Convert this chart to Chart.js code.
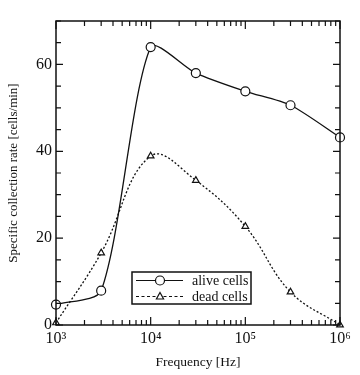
<!DOCTYPE html>
<html>
<head>
<meta charset="utf-8">
<script src="https://cdn.jsdelivr.net/npm/chart.js@4/dist/chart.umd.min.js"></script>
<style>
  html, body { margin: 0; padding: 0; background: #fff; }
  #wrap { width: 360px; height: 375px; }
</style>
</head>
<body>
<div id="wrap"><canvas id="chart" width="360" height="375"></canvas></div>
<script>
// values
const freqs      = [1e3, 3e3, 1e4, 3e4, 1e5, 3e5, 1e6];
const aliveCells = [4.7, 7.9, 64, 58, 53.8, 50.6, 43.2];
const deadCells  = [0.5, 16.6, 38.9, 33.3, 22.7, 7.6, 0];
const seriesNames = ['alive cells', 'dead cells'];
const xDecades = [1e3, 1e4, 1e5, 1e6];
const yLabels  = [0, 20, 40, 60];

const SERIF = '"Liberation Serif", "DejaVu Serif", serif';
const sup = { '3': '\u00b3', '4': '\u2074', '5': '\u2075', '6': '\u2076' };

// frame, inward ticks and the legend box
const framePlugin = {
  id: 'frame',
  afterDraw(chart) {
    const { ctx, chartArea: a, scales: { x, y } } = chart;
    ctx.save();
    ctx.strokeStyle = '#111';
    ctx.lineWidth = 1.5;
    ctx.strokeRect(a.left, a.top, a.right - a.left, a.bottom - a.top);

    ctx.lineWidth = 1.2;
    ctx.beginPath();
    // log ticks top + bottom
    for (let d = 1e3; d < 1e6; d *= 10) {
      for (let m = 1; m <= 10; m++) {
        const px = x.getPixelForValue(d * m);
        const len = (m === 1 || m === 10) ? 8 : 5;
        ctx.moveTo(px, a.bottom); ctx.lineTo(px, a.bottom - len);
        ctx.moveTo(px, a.top); ctx.lineTo(px, a.top + len);
      }
    }
    // y ticks left + right, every 5
    for (let v = 0; v <= 70; v += 5) {
      const py = y.getPixelForValue(v);
      const len = (v % 20 === 0) ? 7 : 5;
      ctx.moveTo(a.left, py); ctx.lineTo(a.left + len, py);
      ctx.moveTo(a.right, py); ctx.lineTo(a.right - len, py);
    }
    ctx.stroke();

    // legend
    const bx = a.left + 76, by = a.bottom - 53, bw = 119, bh = 32;
    ctx.fillStyle = '#fff';
    ctx.fillRect(bx, by, bw, bh);
    ctx.lineWidth = 1.5;
    ctx.strokeRect(bx, by, bw, bh);
    const rows = [
      { y: by + 8.5, dash: [], ds: chart.data.datasets[0] },
      { y: by + 24.5, dash: [3, 2.5], ds: chart.data.datasets[1] }
    ];
    rows.forEach((r, i) => {
      ctx.strokeStyle = '#111';
      ctx.lineWidth = 1.2;
      ctx.setLineDash(r.dash);
      ctx.beginPath();
      ctx.moveTo(bx + 4, r.y); ctx.lineTo(bx + 51, r.y);
      ctx.stroke();
      ctx.setLineDash([]);
      const cx = bx + 28;
      ctx.fillStyle = '#fff';
      ctx.beginPath();
      if (i === 0) {
        ctx.arc(cx, r.y, 4.5, 0, Math.PI * 2);
      } else {
        ctx.moveTo(cx, r.y - 4); ctx.lineTo(cx + 3.6, r.y + 2.5); ctx.lineTo(cx - 3.6, r.y + 2.5); ctx.closePath();
      }
      ctx.fill(); ctx.stroke();
      ctx.fillStyle = '#111';
      ctx.font = '14px ' + SERIF;
      ctx.textBaseline = 'middle';
      ctx.fillText(r.ds.label, bx + 60, r.y + 1);
    });
    ctx.restore();
  }
};

new Chart(document.getElementById('chart'), {
  type: 'line',
  data: {
    labels: freqs,
    datasets: [
      {
        label: seriesNames[0],
        data: freqs.map((f, i) => ({ x: f, y: aliveCells[i] })),
        borderColor: '#111', borderWidth: 1.3,
        pointStyle: 'circle', pointRadius: 4.5,
        pointBackgroundColor: '#fff', pointBorderColor: '#111', pointBorderWidth: 1.2,
        tension: 0.25, fill: false
      },
      {
        label: seriesNames[1],
        data: freqs.map((f, i) => ({ x: f, y: deadCells[i] })),
        borderColor: '#111', borderWidth: 1.3, borderDash: [2, 2],
        pointStyle: 'triangle', pointRadius: 3.8,
        pointBackgroundColor: '#fff', pointBorderColor: '#111', pointBorderWidth: 1.2,
        tension: 0.4, fill: false
      }
    ]
  },
  options: {
    responsive: false,
    animation: false,
    clip: false,
    layout: { padding: { top: 21, right: 20, left: 0, bottom: 0 } },
    plugins: { legend: { display: false }, tooltip: { enabled: false } },
    scales: {
      x: {
        type: 'logarithmic', min: 1e3, max: 1e6,
        afterBuildTicks: s => { s.ticks = xDecades.map(v => ({ value: v })); },
        afterFit: s => { s.height = 50; },
        grid: { display: false, drawTicks: false },
        border: { display: false },
        ticks: {
          color: '#111', padding: 4, maxRotation: 0, autoSkip: false,
          font: { family: SERIF, size: 16 },
          callback: v => '10' + sup[String(Math.round(Math.log10(v)))]
        },
        title: {
          display: true, text: 'Frequency [Hz]', color: '#111',
          font: { family: SERIF, size: 13.5 }, padding: { top: 5 }
        }
      },
      y: {
        min: 0, max: 70,
        afterBuildTicks: s => { s.ticks = yLabels.map(v => ({ value: v })); },
        afterFit: s => { s.width = 56; },
        grid: { display: false, drawTicks: false },
        border: { display: false },
        ticks: {
          color: '#111', padding: 4,
          font: { family: SERIF, size: 16 }
        },
        title: {
          display: true, text: 'Specific collection rate [cells/min]', color: '#111',
          font: { family: SERIF, size: 13 }, padding: { top: 6, bottom: 0 }
        }
      }
    }
  },
  plugins: [framePlugin]
});
</script>
</body>
</html>
